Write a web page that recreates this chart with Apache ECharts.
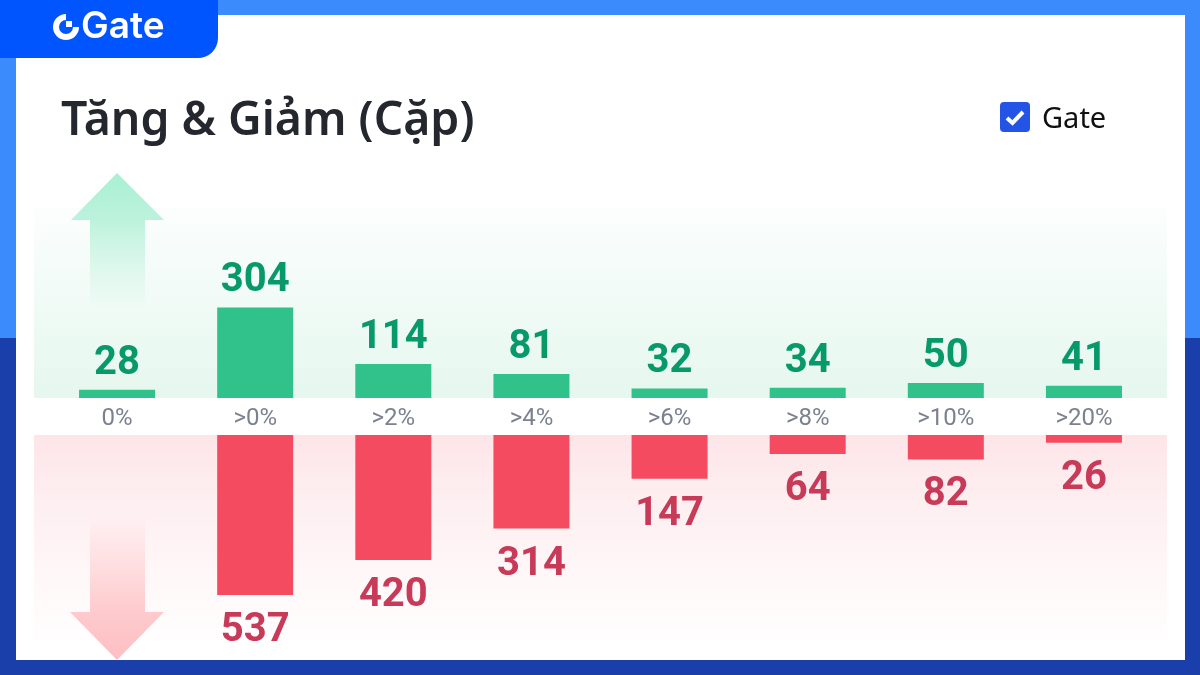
<!DOCTYPE html>
<html lang="vi">
<head>
<meta charset="UTF-8">
<title>Tăng & Giảm (Cặp)</title>
<script src="https://cdn.jsdelivr.net/npm/echarts@6/dist/echarts.min.js"></script>
<style>
  html, body { margin: 0; padding: 0; background: #fff; }
  #main { width: 1200px; height: 675px; }
</style>
</head>
<body>
<div id="main"></div>
<script>
var categories = ['0%', '>0%', '>2%', '>4%', '>6%', '>8%', '>10%', '>20%'];
var upValues = [28, 304, 114, 81, 32, 34, 50, 41];
var downValues = [null, 537, 420, 314, 147, 64, 82, 26];
var seriesName = 'Gate';
var titleText = 'Tăng & Giảm (Cặp)';
var logoText = 'Gate';

var axisMax = 638; // same px per unit in both halves
var font = 'Roboto';

function fade(y0, y1, stops) {
    // vertical gradient in element coordinates
    return new echarts.graphic.LinearGradient(0, y0, 0, y1, stops);
}

var myChart = echarts.init(document.getElementById('main'));

var option = {
    animation: false,
    backgroundColor: '#fff',
    title: {
        text: titleText,
        left: 56,
        top: 94,
        textStyle: { fontFamily: 'Noto Sans', fontSize: 46.4, fontWeight: 600, color: '#24272d' }
    },
    legend: {
        data: [seriesName],
        left: 995,
        top: 97,
        itemWidth: 30,
        itemHeight: 30,
        selectedMode: false,
        icon: 'path://M4 0H26A4 4 0 0 1 30 4V26A4 4 0 0 1 26 30H4A4 4 0 0 1 0 26V4A4 4 0 0 1 4 0Z',
        itemStyle: { color: '#2354e6' },
        formatter: '{t|{name}}',
        textStyle: {
            rich: {
                t: { fontFamily: 'Noto Sans', fontSize: 29, color: '#111', padding: [6, 0, 0, 7] }
            }
        }
    },
    grid: [
        { left: 48, width: 1105, top: 208, height: 190 },
        { left: 48, width: 1105, top: 435, height: 190 }
    ],
    xAxis: [
        {
            type: 'category', gridIndex: 0, data: categories,
            axisLine: { show: false }, axisTick: { show: false },
            axisLabel: { margin: 9, fontFamily: font, fontSize: 24, color: '#7c818f' }
        },
        {
            type: 'category', gridIndex: 1, data: categories, position: 'top',
            axisLine: { show: false }, axisTick: { show: false }, axisLabel: { show: false }
        }
    ],
    yAxis: [
        { type: 'value', gridIndex: 0, min: 0, max: axisMax, show: false },
        { type: 'value', gridIndex: 1, min: 0, max: axisMax, inverse: true, show: false }
    ],
    series: [
        {
            name: seriesName, type: 'bar', xAxisIndex: 0, yAxisIndex: 0,
            data: upValues, barWidth: 76,
            itemStyle: { color: '#31c18a' },
            label: {
                show: true, position: 'top', distance: 6,
                fontFamily: font, fontSize: 40, fontWeight: 700, color: '#07996a'
            }
        },
        {
            name: seriesName, type: 'bar', xAxisIndex: 1, yAxisIndex: 1,
            data: downValues, barWidth: 76,
            itemStyle: { color: '#f44b60' },
            label: {
                show: true, position: 'bottom', distance: 16,
                fontFamily: font, fontSize: 40, fontWeight: 700, color: '#c73b59'
            }
        }
    ],
    graphic: [
        // frame
        { type: 'rect', z: -10, shape: { x: 0, y: 0, width: 1200, height: 338 }, style: { fill: '#3c8bfc' } },
        { type: 'rect', z: -10, shape: { x: 0, y: 338, width: 1200, height: 337 }, style: { fill: '#1a3faa' } },
        { type: 'rect', z: -9, shape: { x: 16, y: 15, width: 1169, height: 645 }, style: { fill: '#fff' } },
        // logo tab
        { type: 'rect', z: -8, shape: { x: 0, y: 0, width: 218, height: 58, r: [0, 0, 20, 0] }, style: { fill: '#0055ff' } },
        { type: 'arc', z: -7, shape: { cx: 66, cy: 27, r: 10, startAngle: 0, endAngle: Math.PI * 1.5, clockwise: true }, style: { fill: null, stroke: '#fff', lineWidth: 6 } },
        { type: 'rect', z: -7, shape: { x: 66, y: 21, width: 6, height: 6 }, style: { fill: '#fff' } },
        { type: 'text', z: -7, style: { x: 81, y: 8, text: logoText, fill: '#fff', fontFamily: 'Inter', fontSize: 37, fontWeight: 600 } },
        // check mark on legend box
        { type: 'polyline', z: 100, shape: { points: [[1007, 118], [1012.5, 123], [1023, 112]] }, style: { fill: null, stroke: '#fff', lineWidth: 4 } },
        // band backgrounds
        {
            type: 'rect', z: -6, shape: { x: 34, y: 208, width: 1133, height: 190 },
            style: { fill: fade(0, 1, [{ offset: 0, color: 'rgba(230,247,240,0.15)' }, { offset: 1, color: '#e5f7ef' }]) }
        },
        {
            type: 'rect', z: -6, shape: { x: 34, y: 435, width: 1133, height: 205 },
            style: { fill: fade(0, 1, [{ offset: 0, color: '#fde5e8' }, { offset: 0.35, color: 'rgba(253,229,232,0.6)' }, { offset: 1, color: 'rgba(253,229,232,0.05)' }]) }
        },
        // arrows
        {
            type: 'polygon', z: -5,
            shape: { points: [[117, 173], [164, 220], [145, 220], [145, 310], [90, 310], [90, 220], [71, 220]] },
            style: { fill: fade(0, 1, [{ offset: 0, color: '#a8f0d3' }, { offset: 0.35, color: '#bdf2dc' }, { offset: 1, color: 'rgba(200,243,226,0)' }]) }
        },
        {
            type: 'polygon', z: -5,
            shape: { points: [[90, 515], [145, 515], [145, 612], [164, 612], [117, 660], [70, 612], [90, 612]] },
            style: { fill: fade(0, 1, [{ offset: 0, color: 'rgba(255,200,203,0)' }, { offset: 0.65, color: '#fecbce' }, { offset: 1, color: '#fdbfc2' }]) }
        }
    ]
};

myChart.setOption(option);
</script>
</body>
</html>
